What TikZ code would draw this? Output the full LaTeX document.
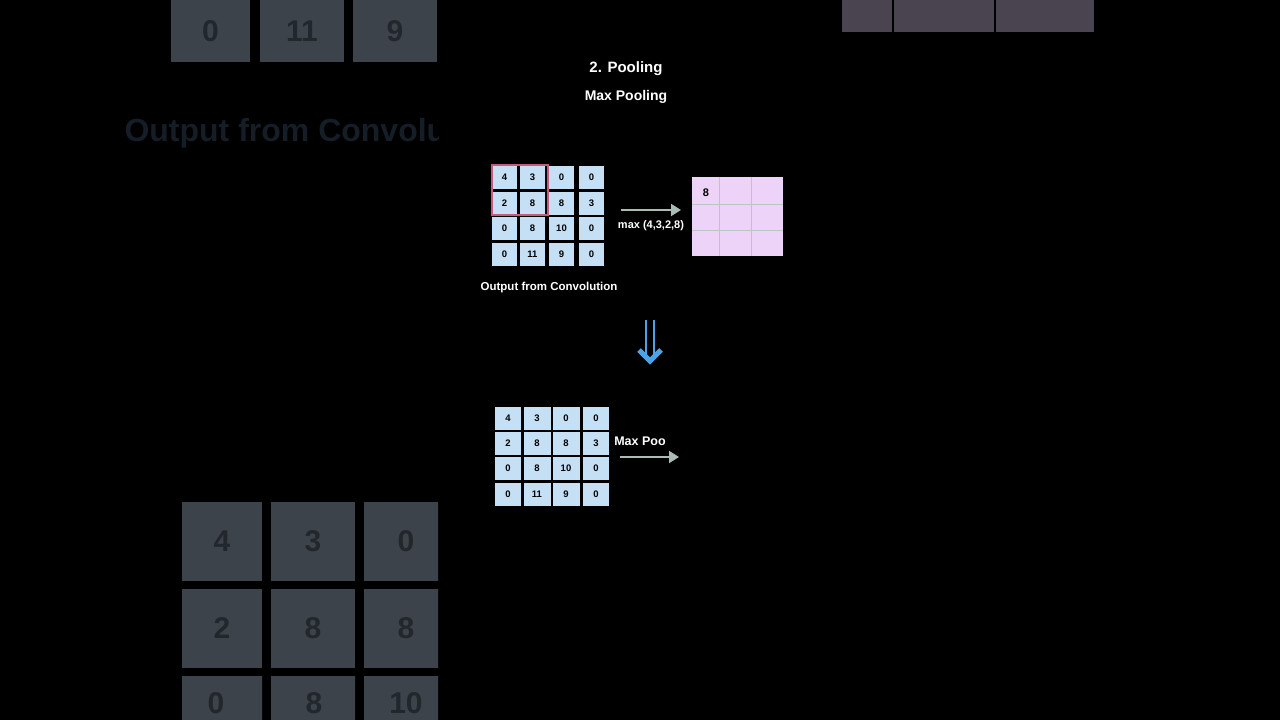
\documentclass[tikz,border=0pt]{standalone}
\usepackage{fontspec}
\setmainfont{Liberation Sans}
\usetikzlibrary{arrows.meta}
\definecolor{cellb}{HTML}{C5DFF5}
\definecolor{cellp}{HTML}{EDD3F7}
\definecolor{redb}{HTML}{C45A7E}
\definecolor{arr}{HTML}{A9BDB5}
\definecolor{fade}{HTML}{3C434B}
\definecolor{fadet}{HTML}{22272C}
\definecolor{fadep}{HTML}{4A4350}
\definecolor{blu}{HTML}{4DA3E8}
\begin{document}
\begin{tikzpicture}[x=1pt,y=-1pt,
  cb/.style={fill=cellb,draw=none,minimum width=25pt,minimum height=23pt,inner sep=0pt,font=\bfseries\fontsize{9.5}{10}\selectfont},
  fc/.style={fill=fade,inner sep=0pt,font=\bfseries\fontsize{30}{32}\selectfont,text=fadet},
  lbl/.style={text=white,font=\bfseries\fontsize{11.5}{13}\selectfont},
  garr/.style={draw=arr,line width=2pt,-{Triangle[length=10pt,width=12pt]}}]
\fill[black] (0,0) rectangle (1280,720);
\useasboundingbox (0,0) rectangle (1280,720);
% faded left panel
\begin{scope}
\clip (0,0) rectangle (438,720);
\node[fc,minimum width=79pt,minimum height=62pt] (fa) at (210.5,31) {0};
\node[fc,minimum width=84pt,minimum height=62pt] (fb) at (302,31) {11};
\node[fc,minimum width=84pt,minimum height=62pt] (fcc) at (395,31) {9};
\node[anchor=west,text=fade!120,font=\bfseries\fontsize{32}{34}\selectfont] (fo) at (121,133) {Output from Convolution};
\foreach \r/\y/\a/\b/\c in {0/541/4/3/0,1/628/2/8/8}{
  \node[fc,minimum width=80pt,minimum height=79pt] (g\r a) at (222,\y) {\a};
  \node[fc,minimum width=84pt,minimum height=79pt] (g\r b) at (313,\y) {\b};
  \node[fc,minimum width=84pt,minimum height=79pt] (g\r c) at (406,\y) {\c};
}
\fill[fade] (182,676) rectangle (262,720) (271,676) rectangle (355,720) (364,676) rectangle (438,720);
\node[fc,fill=none] (h0) at (216,703) {0};
\node[fc,fill=none] (h1) at (314,703) {8};
\node[fc,fill=none] (h2) at (406,703) {10};
\end{scope}
\fill[fadep] (842,0) rectangle (1094,32);
\draw[black,line width=1.5pt] (893,0) -- (893,32) (995,0) -- (995,32);
% titles
\node[lbl,font=\bfseries\fontsize{15}{16}\selectfont] (t1) at (626,69) {2. Pooling};
\node[lbl,font=\bfseries\fontsize{14}{16}\selectfont] (t2) at (626,97) {Max Pooling};
% top grid
\foreach \row/\y/\a/\b/\c/\d in {0/177/4/3/0/0,1/203/2/8/8/3,2/228/0/8/10/0,3/254/0/11/9/0}{
  \node[cb] (a\row 0) at (504.5,\y) {\a};
  \node[cb] (a\row 1) at (532.5,\y) {\b};
  \node[cb] (a\row 2) at (561.5,\y) {\c};
  \node[cb] (a\row 3) at (591.5,\y) {\d};
}
\draw[redb,line width=2.2pt] (492,165) rectangle (548,215);
\node[lbl] (oc) at (549,288) {Output from Convolution};
\coordinate (s1) at (621,210); \coordinate (e1) at (681,210);
\draw[garr] (s1) -- (e1);
\node[lbl,font=\bfseries\fontsize{11}{12}\selectfont] (mx) at (651,226) {max (4,3,2,8)};
% pink grid
\fill[cellp] (692,177) rectangle (783,256);
\draw[arr!70!cellp,line width=1pt] (719,177) -- (719,256) (751,177) -- (751,256) (692,204) -- (783,204) (692,230) -- (783,230);
\node[font=\bfseries\fontsize{11}{12}\selectfont] (p8) at (706,193) {8};
% blue arrow
\draw[blu,line width=2pt] (646,320) -- (646,358) (654,320) -- (654,358);
\draw[blu,line width=5pt,line join=miter] (639,350) -- (650,361) -- (661,350);
% bottom grid
\foreach \row/\y/\a/\b/\c/\d in {0/418/4/3/0/0,1/443/2/8/8/3,2/468/0/8/10/0,3/494/0/11/9/0}{
  \node[cb,minimum width=26pt] (b\row 0) at (508,\y) {\a};
  \node[cb,minimum width=27pt] (b\row 1) at (537,\y) {\b};
  \node[cb,minimum width=27pt] (b\row 2) at (566,\y) {\c};
  \node[cb,minimum width=26pt] (b\row 3) at (596,\y) {\d};
}
\node[lbl,font=\bfseries\fontsize{12.5}{14}\selectfont] (mp) at (640,441) {Max Poo};
\coordinate (s2) at (620,457); \coordinate (e2) at (679,457);
\draw[garr] (s2) -- (e2);
\end{tikzpicture}
\end{document}
